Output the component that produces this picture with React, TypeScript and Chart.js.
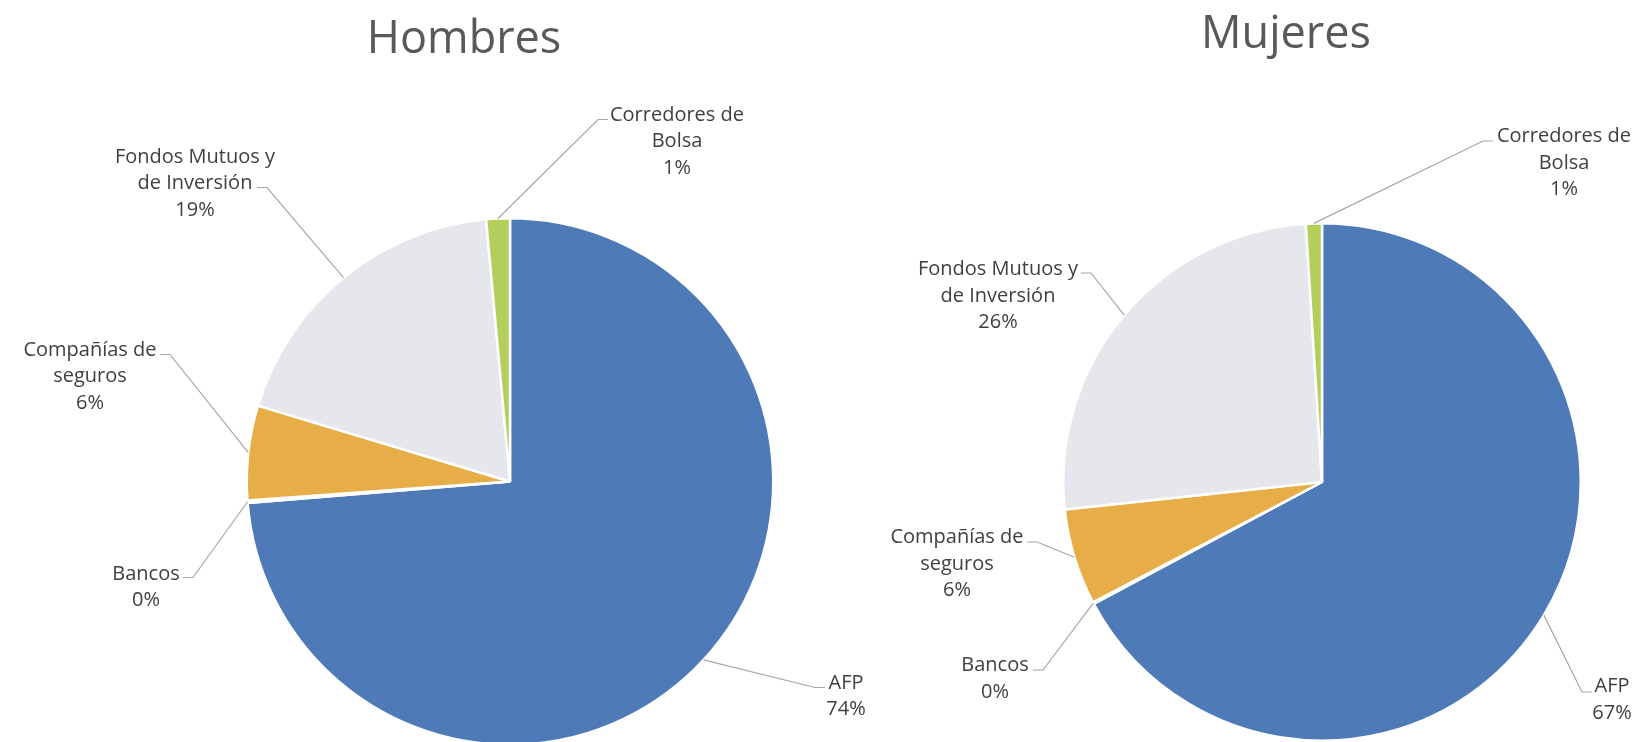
import React, { useEffect, useRef } from "react";
import { Chart, registerables } from "chart.js";

Chart.register(...registerables);

// ---- Data ----
const categories = [
  "AFP",
  "Bancos",
  "Compañías de seguros",
  "Fondos Mutuos y de Inversión",
  "Corredores de Bolsa",
];
const categoryLines = [
  ["AFP"],
  ["Bancos"],
  ["Compañías de", "seguros"],
  ["Fondos Mutuos y", "de Inversión"],
  ["Corredores de", "Bolsa"],
];
const hombresValues = [73.7, 0.15, 5.8, 18.9, 1.45];
const mujeresValues = [67.2, 0.1, 6.0, 25.7, 1.0];
const chartTitles = ["Hombres", "Mujeres"];

// ---- Styles ----
const sliceColors = ["#4E7AB8", "#A5A5A5", "#E7AE47", "#E6E7ED", "#B3CE5A"];
const FONT = '"Open Sans", "Noto Sans", sans-serif';

// label layout: text centre / first baseline and leader elbow, relative to pie centre
type LabelPos = { tx: number; ty: number; ex: number; ey: number; side: number };
const hombresLabelPos: LabelPos[] = [
  { tx: 336, ty: 207, ex: 305, ey: 206, side: 1 },
  { tx: -364, ty: 98, ex: -317, ey: 96, side: -1 },
  { tx: -420, ty: -126, ex: -340, ey: -127, side: -1 },
  { tx: -315, ty: -319, ex: -243, ey: -294, side: -1 },
  { tx: 167, ty: -361, ex: 88, ey: -362, side: 1 },
];
const mujeresLabelPos: LabelPos[] = [
  { tx: 290, ty: 210, ex: 260, ey: 210, side: 1 },
  { tx: -327, ty: 189, ex: -279, ey: 188, side: -1 },
  { tx: -365, ty: 61, ex: -285, ey: 60, side: -1 },
  { tx: -324, ty: -207, ex: -231, ey: -209, side: -1 },
  { tx: 242, ty: -340, ex: 161, ey: -341, side: 1 },
];

const pieLabelsPlugin = {
  id: "pieLabels",
  afterDraw(chart: any, _args: any, opts: any) {
    const ctx: CanvasRenderingContext2D = chart.ctx;
    const meta = chart.getDatasetMeta(0);
    const data = chart.data.datasets[0].data as number[];
    const total = data.reduce((a, b) => a + b, 0);
    ctx.save();
    // title
    ctx.font = `${opts.titleSize}px ${FONT}`;
    ctx.fillStyle = "#595959";
    ctx.textAlign = "center";
    ctx.textBaseline = "alphabetic";
    ctx.fillText(opts.title, chart.width / 2, opts.titleBaseline);

    ctx.font = `20px ${FONT}`;
    meta.data.forEach((el: any, i: number) => {
      const p = el.getProps(["x", "y", "startAngle", "endAngle", "outerRadius"], true);
      const mid = (p.startAngle + p.endAngle) / 2;
      const px = p.x + Math.cos(mid) * p.outerRadius;
      const py = p.y + Math.sin(mid) * p.outerRadius;
      const L: LabelPos = opts.positions[i];
      const ex = p.x + L.ex;
      const ey = p.y + L.ey;
      ctx.strokeStyle = "#A6A6A6";
      ctx.lineWidth = 1.2;
      ctx.beginPath();
      ctx.moveTo(px, py);
      ctx.lineTo(ex, ey);
      ctx.lineTo(ex + L.side * 10, ey);
      ctx.stroke();
      const lines = [...categoryLines[i], Math.round((data[i] / total) * 100) + "%"];
      ctx.fillStyle = "#404040";
      ctx.textAlign = "center";
      lines.forEach((t, k) => ctx.fillText(t, p.x + L.tx, p.y + L.ty + k * 26.5));
    });
    ctx.restore();
  },
};

type PieProps = {
  values: number[];
  positions: LabelPos[];
  title: string;
  titleBaseline: number;
  left: number;
  width: number;
  height: number;
  padding: { left: number; right: number; top: number; bottom: number };
};

function PieChart({ values, positions, title, titleBaseline, left, width, height, padding }: PieProps) {
  const ref = useRef<HTMLCanvasElement>(null);
  useEffect(() => {
    const chart = new Chart(ref.current!, {
      type: "pie",
      data: {
        labels: categories,
        datasets: [
          {
            data: values,
            backgroundColor: sliceColors,
            borderColor: "#ffffff",
            borderWidth: 2.5,
          },
        ],
      },
      options: {
        responsive: true,
        maintainAspectRatio: false,
        animation: false,
        devicePixelRatio: 1,
        layout: { padding },
        plugins: {
          legend: { display: false },
          tooltip: { enabled: false },
          // @ts-ignore
          pieLabels: { title, titleBaseline, titleSize: 45, positions },
        },
      } as any,
      plugins: [pieLabelsPlugin as any],
    });
    return () => chart.destroy();
  }, []);
  return (
    <div style={{ position: "absolute", left, top: 0, width, height }}>
      <canvas ref={ref} />
    </div>
  );
}

export default function App() {
  return (
    <div
      style={{
        position: "fixed",
        left: 0,
        top: 0,
        width: 1639,
        height: 742,
        overflow: "hidden",
        background: "#ffffff",
      }}
    >
      <PieChart
        values={hombresValues}
        positions={hombresLabelPos}
        title={chartTitles[0]}
        titleBaseline={53}
        left={0}
        width={928}
        height={750}
        padding={{ left: 245, right: 153, top: 217, bottom: 4 }}
      />
      <PieChart
        values={mujeresValues}
        positions={mujeresLabelPos}
        title={chartTitles[1]}
        titleBaseline={48}
        left={885}
        width={802}
        height={742}
        padding={{ left: 177, right: 105, top: 222, bottom: 0 }}
      />
    </div>
  );
}
